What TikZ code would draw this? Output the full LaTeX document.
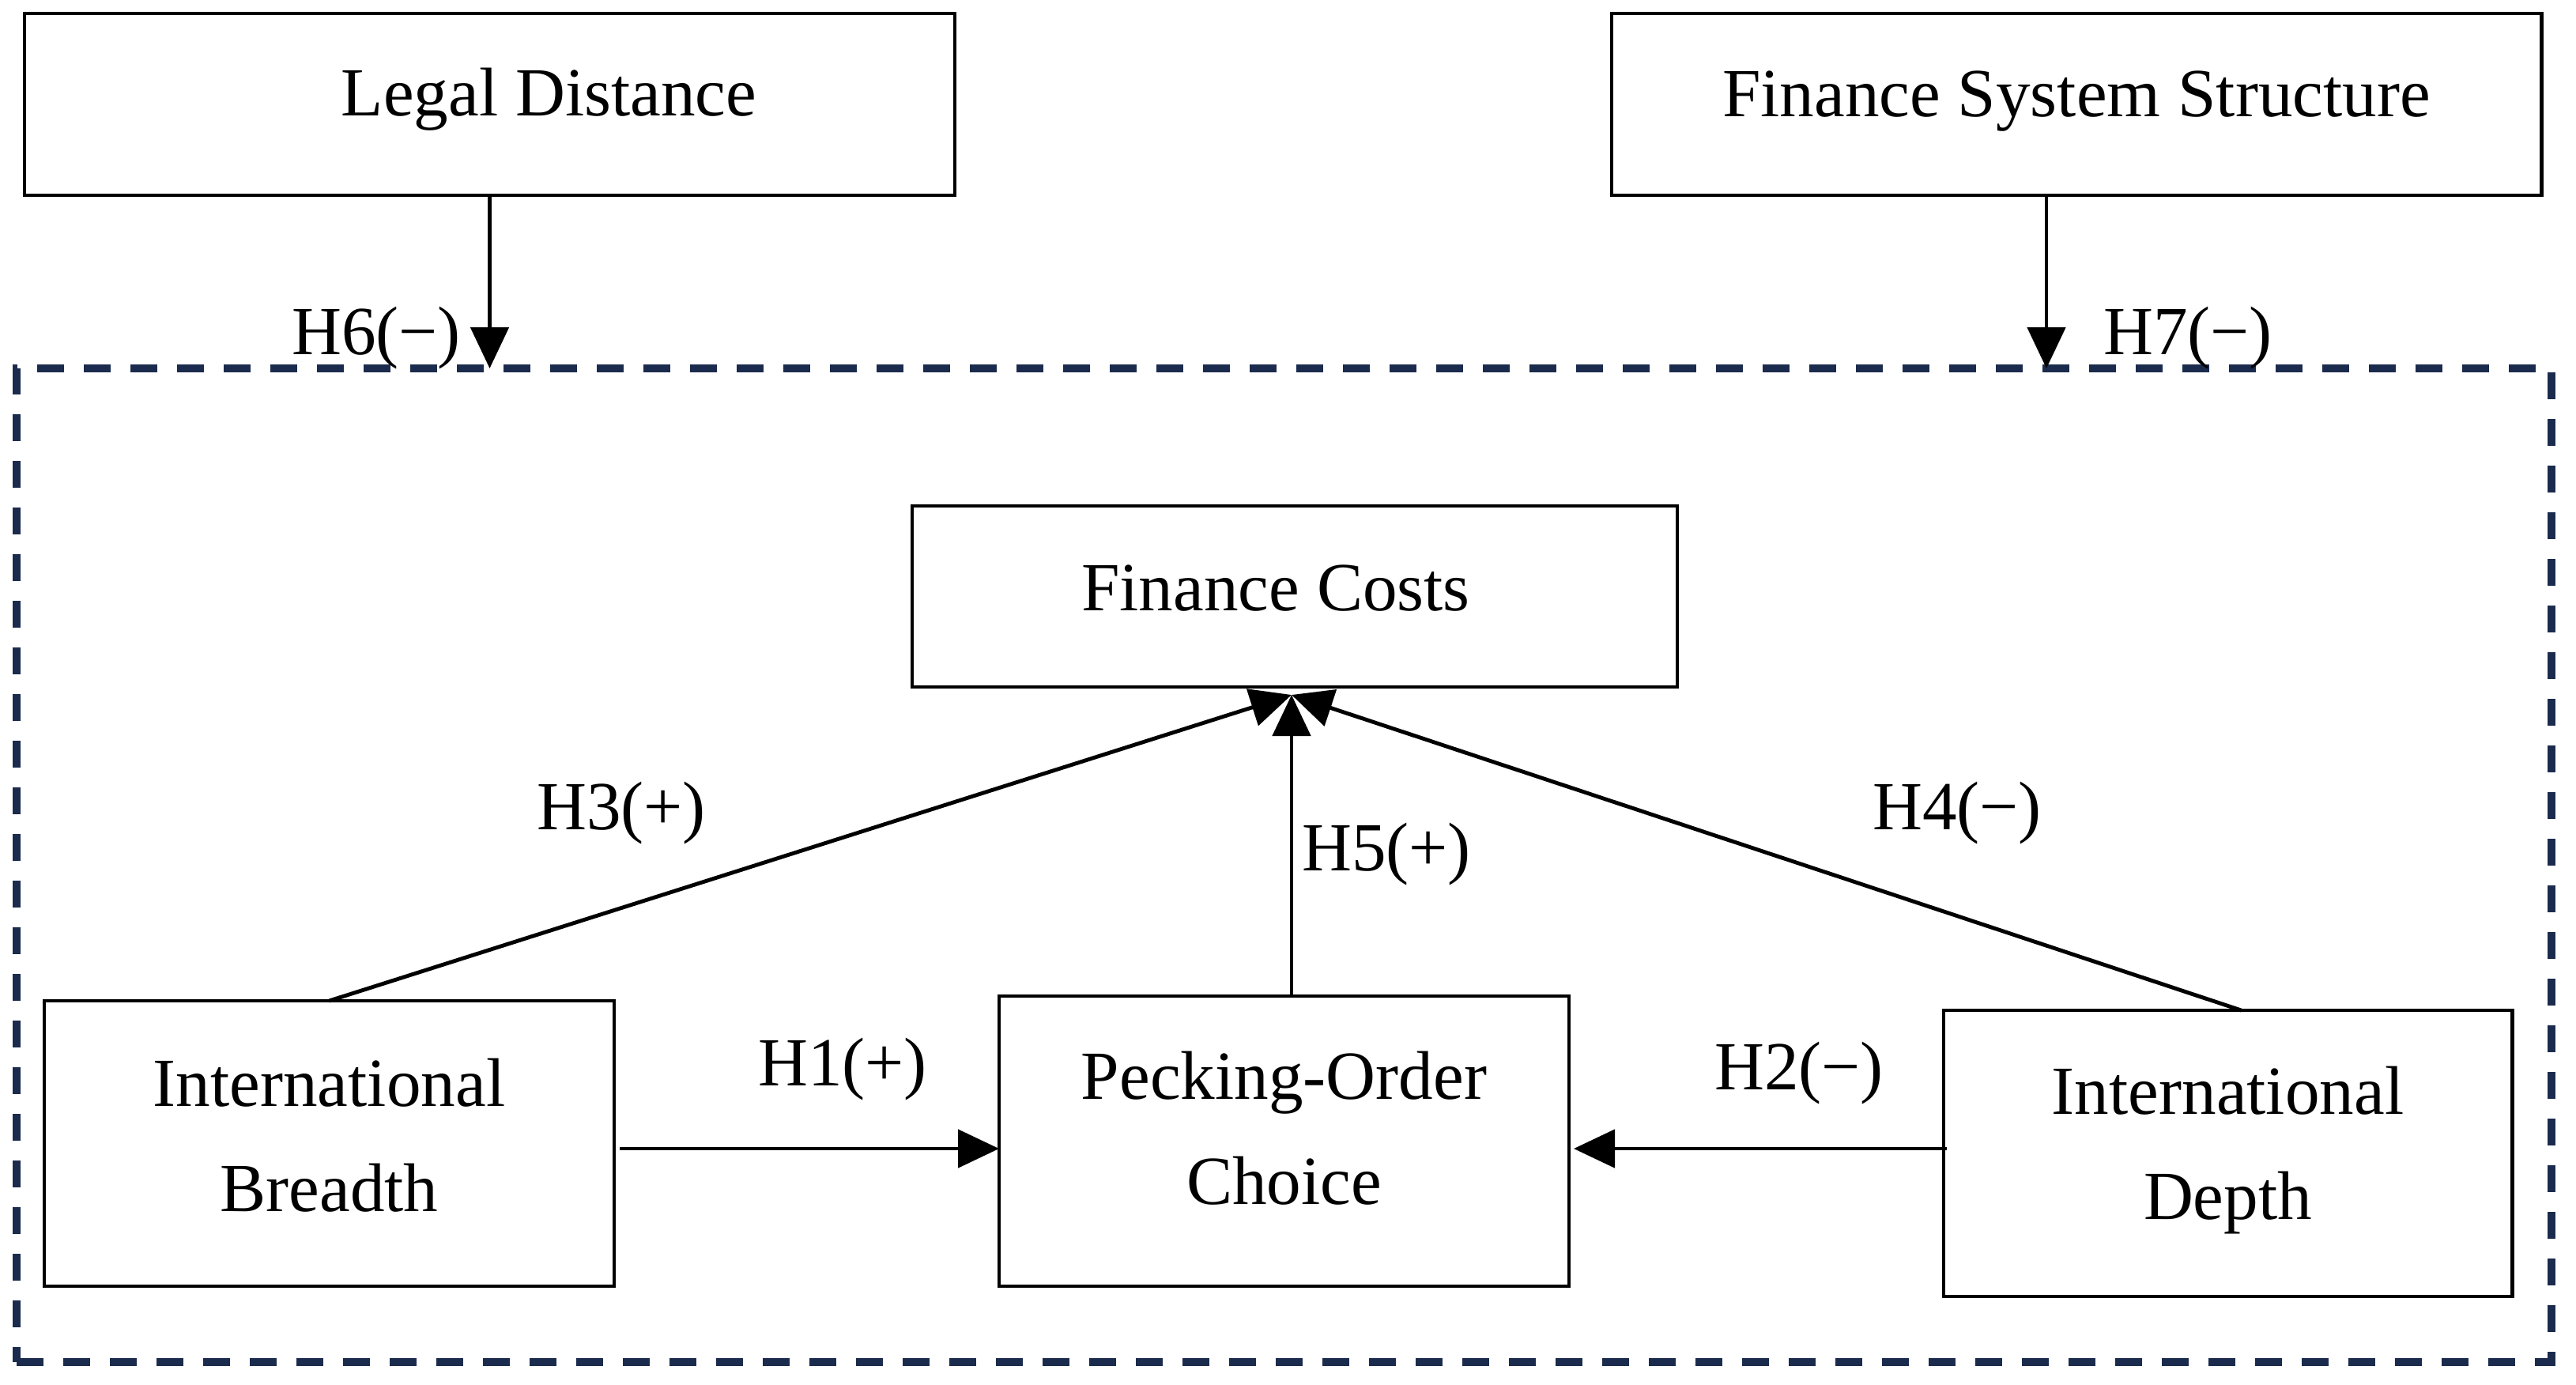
\documentclass[tikz,border=0pt]{standalone}
\usepackage{fontspec}
\setmainfont{Liberation Serif}
\usetikzlibrary{arrows.meta,calc}
\definecolor{navy}{HTML}{1B2B4D}
\begin{document}
\begin{tikzpicture}[
  font=\fontsize{24.8}{37.8}\selectfont,
  box/.style={draw, line width=1.4pt, inner sep=0pt, outer sep=0pt},
  txt/.style={align=center, inner sep=0pt},
  conn/.style={line width=1.4pt, -{Triangle[length=0.52cm,width=0.48cm]}},
  lbl/.style={inner sep=0pt}
]
\useasboundingbox (0,0) rectangle (32.59,-17.51);
% dashed frame
\node[draw=navy, line width=3pt, dash pattern=on 0.34cm off 0.25cm,
      minimum width=32.07cm, minimum height=12.57cm, inner sep=0pt, outer sep=0pt]
      (frame) at (16.245,-10.945) {};
% boxes
\node[box, minimum width=11.77cm, minimum height=2.30cm,
      label={[txt, xshift=0.75cm, yshift=0.06cm]center:Legal Distance}] (ld) at (6.195,-1.32) {};
\node[box, minimum width=11.76cm, minimum height=2.30cm,
      label={[txt, yshift=0.04cm]center:Finance System Structure}] (fs) at (26.27,-1.32) {};
\node[box, minimum width=9.68cm, minimum height=2.29cm,
      label={[txt, xshift=-0.24cm, yshift=0.1cm]center:Finance Costs}] (fc) at (16.38,-7.545) {};
\node[box, minimum width=7.21cm, minimum height=3.61cm,
      label={[txt, yshift=0.1cm]center:International\\Breadth}] (ib) at (4.165,-14.465) {};
\node[box, minimum width=7.21cm, minimum height=3.67cm,
      label={[txt, yshift=0.16cm]center:Pecking-Order\\Choice}] (pc) at (16.245,-14.435) {};
\node[box, minimum width=7.19cm, minimum height=3.62cm,
      label={[txt, yshift=0.04cm]center:International\\Depth}] (id) at (28.185,-14.59) {};
% helper coordinates
\coordinate (tip) at (16.34,-8.79);
\coordinate (h1y) at (0,-14.53);
% connectors
\draw[conn] (ld.south) -- (ld.south |- frame.north);
\draw[conn] ($(fs.south)+(-0.38,0)$) -- ($(fs.south |- frame.north)+(-0.38,0)$);
\draw[conn] (ib.north) -- (tip);
\draw[conn] ($(id.north)+(0.17,0)$) -- (tip);
\draw[conn] (pc.north -| tip) -- (tip);
\draw[conn] ($(ib.east |- h1y)+(0.07,0)$) -- (pc.west |- h1y);
\draw[conn] ($(id.west |- h1y)+(0.04,0)$) -- ($(pc.east |- h1y)+(0.06,0)$);
% labels
\node[lbl] (l6) at (4.76,-4.28) {H6(−)};
\node[lbl] (l7) at (27.68,-4.28) {H7(−)};
\node[lbl] (l3) at (7.86,-10.29) {H3(+)};
\node[lbl] (l5) at (17.54,-10.81) {H5(+)};
\node[lbl] (l4) at (24.76,-10.29) {H4(−)};
\node[lbl] (l1) at (10.66,-13.53) {H1(+)};
\node[lbl] (l2) at (22.76,-13.58) {H2(−)};
\end{tikzpicture}
\end{document}
